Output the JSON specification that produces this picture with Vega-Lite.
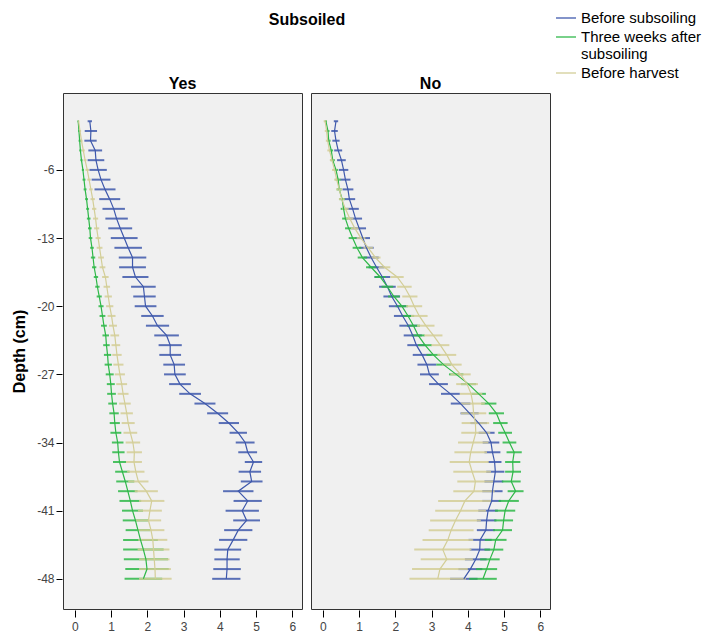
{
"$schema":"https://vega.github.io/schema/vega-lite/v6.json",
"background":"white",
"padding":{"left":11,"top":7,"right":5,"bottom":0},
"datasets":{"pts":[
{"s":"Yes","g":"Before subsoiling","d":-1,"m":0.41,"e":0.06},{"s":"Yes","g":"Before subsoiling","d":-2,"m":0.44,"e":0.17},{"s":"Yes","g":"Before subsoiling","d":-3,"m":0.43,"e":0.17},{"s":"Yes","g":"Before subsoiling","d":-4,"m":0.56,"e":0.19},{"s":"Yes","g":"Before subsoiling","d":-5,"m":0.58,"e":0.23},{"s":"Yes","g":"Before subsoiling","d":-6,"m":0.64,"e":0.24},{"s":"Yes","g":"Before subsoiling","d":-7,"m":0.72,"e":0.26},{"s":"Yes","g":"Before subsoiling","d":-8,"m":0.83,"e":0.29},{"s":"Yes","g":"Before subsoiling","d":-9,"m":0.96,"e":0.29},{"s":"Yes","g":"Before subsoiling","d":-10,"m":1.07,"e":0.31},{"s":"Yes","g":"Before subsoiling","d":-11,"m":1.15,"e":0.31},{"s":"Yes","g":"Before subsoiling","d":-12,"m":1.25,"e":0.33},{"s":"Yes","g":"Before subsoiling","d":-13,"m":1.36,"e":0.37},{"s":"Yes","g":"Before subsoiling","d":-14,"m":1.47,"e":0.38},{"s":"Yes","g":"Before subsoiling","d":-15,"m":1.59,"e":0.38},{"s":"Yes","g":"Before subsoiling","d":-16,"m":1.59,"e":0.37},{"s":"Yes","g":"Before subsoiling","d":-17,"m":1.67,"e":0.36},{"s":"Yes","g":"Before subsoiling","d":-18,"m":1.89,"e":0.34},{"s":"Yes","g":"Before subsoiling","d":-19,"m":1.92,"e":0.31},{"s":"Yes","g":"Before subsoiling","d":-20,"m":1.95,"e":0.30},{"s":"Yes","g":"Before subsoiling","d":-21,"m":2.14,"e":0.31},{"s":"Yes","g":"Before subsoiling","d":-22,"m":2.28,"e":0.32},{"s":"Yes","g":"Before subsoiling","d":-23,"m":2.53,"e":0.34},{"s":"Yes","g":"Before subsoiling","d":-24,"m":2.63,"e":0.32},{"s":"Yes","g":"Before subsoiling","d":-25,"m":2.63,"e":0.30},{"s":"Yes","g":"Before subsoiling","d":-26,"m":2.74,"e":0.30},{"s":"Yes","g":"Before subsoiling","d":-27,"m":2.76,"e":0.30},{"s":"Yes","g":"Before subsoiling","d":-28,"m":2.90,"e":0.30},{"s":"Yes","g":"Before subsoiling","d":-29,"m":3.18,"e":0.30},{"s":"Yes","g":"Before subsoiling","d":-30,"m":3.59,"e":0.29},{"s":"Yes","g":"Before subsoiling","d":-31,"m":3.94,"e":0.29},{"s":"Yes","g":"Before subsoiling","d":-32,"m":4.25,"e":0.28},{"s":"Yes","g":"Before subsoiling","d":-33,"m":4.51,"e":0.24},{"s":"Yes","g":"Before subsoiling","d":-34,"m":4.70,"e":0.26},{"s":"Yes","g":"Before subsoiling","d":-35,"m":4.77,"e":0.26},{"s":"Yes","g":"Before subsoiling","d":-36,"m":4.93,"e":0.24},{"s":"Yes","g":"Before subsoiling","d":-37,"m":4.83,"e":0.31},{"s":"Yes","g":"Before subsoiling","d":-38,"m":4.88,"e":0.30},{"s":"Yes","g":"Before subsoiling","d":-39,"m":4.51,"e":0.42},{"s":"Yes","g":"Before subsoiling","d":-40,"m":4.77,"e":0.39},{"s":"Yes","g":"Before subsoiling","d":-41,"m":4.62,"e":0.46},{"s":"Yes","g":"Before subsoiling","d":-42,"m":4.74,"e":0.37},{"s":"Yes","g":"Before subsoiling","d":-43,"m":4.51,"e":0.39},{"s":"Yes","g":"Before subsoiling","d":-44,"m":4.37,"e":0.39},{"s":"Yes","g":"Before subsoiling","d":-45,"m":4.22,"e":0.37},{"s":"Yes","g":"Before subsoiling","d":-46,"m":4.20,"e":0.35},{"s":"Yes","g":"Before subsoiling","d":-47,"m":4.20,"e":0.38},{"s":"Yes","g":"Before subsoiling","d":-48,"m":4.18,"e":0.39},
{"s":"Yes","g":"Three weeks after subsoiling","d":-1,"m":0.09,"e":0.02},{"s":"Yes","g":"Three weeks after subsoiling","d":-2,"m":0.11,"e":0.02},{"s":"Yes","g":"Three weeks after subsoiling","d":-3,"m":0.13,"e":0.03},{"s":"Yes","g":"Three weeks after subsoiling","d":-4,"m":0.15,"e":0.03},{"s":"Yes","g":"Three weeks after subsoiling","d":-5,"m":0.18,"e":0.03},{"s":"Yes","g":"Three weeks after subsoiling","d":-6,"m":0.22,"e":0.03},{"s":"Yes","g":"Three weeks after subsoiling","d":-7,"m":0.25,"e":0.04},{"s":"Yes","g":"Three weeks after subsoiling","d":-8,"m":0.28,"e":0.04},{"s":"Yes","g":"Three weeks after subsoiling","d":-9,"m":0.32,"e":0.04},{"s":"Yes","g":"Three weeks after subsoiling","d":-10,"m":0.35,"e":0.04},{"s":"Yes","g":"Three weeks after subsoiling","d":-11,"m":0.38,"e":0.05},{"s":"Yes","g":"Three weeks after subsoiling","d":-12,"m":0.41,"e":0.05},{"s":"Yes","g":"Three weeks after subsoiling","d":-13,"m":0.43,"e":0.05},{"s":"Yes","g":"Three weeks after subsoiling","d":-14,"m":0.47,"e":0.05},{"s":"Yes","g":"Three weeks after subsoiling","d":-15,"m":0.50,"e":0.06},{"s":"Yes","g":"Three weeks after subsoiling","d":-16,"m":0.53,"e":0.06},{"s":"Yes","g":"Three weeks after subsoiling","d":-17,"m":0.58,"e":0.06},{"s":"Yes","g":"Three weeks after subsoiling","d":-18,"m":0.62,"e":0.06},{"s":"Yes","g":"Three weeks after subsoiling","d":-19,"m":0.67,"e":0.07},{"s":"Yes","g":"Three weeks after subsoiling","d":-20,"m":0.72,"e":0.07},{"s":"Yes","g":"Three weeks after subsoiling","d":-21,"m":0.76,"e":0.08},{"s":"Yes","g":"Three weeks after subsoiling","d":-22,"m":0.80,"e":0.08},{"s":"Yes","g":"Three weeks after subsoiling","d":-23,"m":0.85,"e":0.09},{"s":"Yes","g":"Three weeks after subsoiling","d":-24,"m":0.87,"e":0.09},{"s":"Yes","g":"Three weeks after subsoiling","d":-25,"m":0.90,"e":0.10},{"s":"Yes","g":"Three weeks after subsoiling","d":-26,"m":0.92,"e":0.10},{"s":"Yes","g":"Three weeks after subsoiling","d":-27,"m":0.96,"e":0.11},{"s":"Yes","g":"Three weeks after subsoiling","d":-28,"m":0.99,"e":0.11},{"s":"Yes","g":"Three weeks after subsoiling","d":-29,"m":1.01,"e":0.12},{"s":"Yes","g":"Three weeks after subsoiling","d":-30,"m":1.04,"e":0.12},{"s":"Yes","g":"Three weeks after subsoiling","d":-31,"m":1.08,"e":0.13},{"s":"Yes","g":"Three weeks after subsoiling","d":-32,"m":1.10,"e":0.14},{"s":"Yes","g":"Three weeks after subsoiling","d":-33,"m":1.13,"e":0.15},{"s":"Yes","g":"Three weeks after subsoiling","d":-34,"m":1.18,"e":0.16},{"s":"Yes","g":"Three weeks after subsoiling","d":-35,"m":1.20,"e":0.17},{"s":"Yes","g":"Three weeks after subsoiling","d":-36,"m":1.23,"e":0.18},{"s":"Yes","g":"Three weeks after subsoiling","d":-37,"m":1.31,"e":0.20},{"s":"Yes","g":"Three weeks after subsoiling","d":-38,"m":1.39,"e":0.25},{"s":"Yes","g":"Three weeks after subsoiling","d":-39,"m":1.46,"e":0.27},{"s":"Yes","g":"Three weeks after subsoiling","d":-40,"m":1.53,"e":0.30},{"s":"Yes","g":"Three weeks after subsoiling","d":-41,"m":1.59,"e":0.29},{"s":"Yes","g":"Three weeks after subsoiling","d":-42,"m":1.67,"e":0.35},{"s":"Yes","g":"Three weeks after subsoiling","d":-43,"m":1.74,"e":0.34},{"s":"Yes","g":"Three weeks after subsoiling","d":-44,"m":1.81,"e":0.48},{"s":"Yes","g":"Three weeks after subsoiling","d":-45,"m":1.89,"e":0.56},{"s":"Yes","g":"Three weeks after subsoiling","d":-46,"m":1.96,"e":0.61},{"s":"Yes","g":"Three weeks after subsoiling","d":-47,"m":1.99,"e":0.60},{"s":"Yes","g":"Three weeks after subsoiling","d":-48,"m":1.89,"e":0.52},
{"s":"Yes","g":"Before harvest","d":-1,"m":0.10,"e":0.02},{"s":"Yes","g":"Before harvest","d":-2,"m":0.14,"e":0.03},{"s":"Yes","g":"Before harvest","d":-3,"m":0.18,"e":0.03},{"s":"Yes","g":"Before harvest","d":-4,"m":0.23,"e":0.04},{"s":"Yes","g":"Before harvest","d":-5,"m":0.28,"e":0.04},{"s":"Yes","g":"Before harvest","d":-6,"m":0.34,"e":0.05},{"s":"Yes","g":"Before harvest","d":-7,"m":0.39,"e":0.05},{"s":"Yes","g":"Before harvest","d":-8,"m":0.44,"e":0.05},{"s":"Yes","g":"Before harvest","d":-9,"m":0.49,"e":0.06},{"s":"Yes","g":"Before harvest","d":-10,"m":0.53,"e":0.06},{"s":"Yes","g":"Before harvest","d":-11,"m":0.57,"e":0.07},{"s":"Yes","g":"Before harvest","d":-12,"m":0.60,"e":0.07},{"s":"Yes","g":"Before harvest","d":-13,"m":0.64,"e":0.07},{"s":"Yes","g":"Before harvest","d":-14,"m":0.68,"e":0.08},{"s":"Yes","g":"Before harvest","d":-15,"m":0.72,"e":0.08},{"s":"Yes","g":"Before harvest","d":-16,"m":0.76,"e":0.08},{"s":"Yes","g":"Before harvest","d":-17,"m":0.84,"e":0.09},{"s":"Yes","g":"Before harvest","d":-18,"m":0.88,"e":0.09},{"s":"Yes","g":"Before harvest","d":-19,"m":0.92,"e":0.10},{"s":"Yes","g":"Before harvest","d":-20,"m":0.96,"e":0.10},{"s":"Yes","g":"Before harvest","d":-21,"m":1.01,"e":0.11},{"s":"Yes","g":"Before harvest","d":-22,"m":1.05,"e":0.11},{"s":"Yes","g":"Before harvest","d":-23,"m":1.10,"e":0.12},{"s":"Yes","g":"Before harvest","d":-24,"m":1.13,"e":0.12},{"s":"Yes","g":"Before harvest","d":-25,"m":1.16,"e":0.13},{"s":"Yes","g":"Before harvest","d":-26,"m":1.20,"e":0.14},{"s":"Yes","g":"Before harvest","d":-27,"m":1.24,"e":0.14},{"s":"Yes","g":"Before harvest","d":-28,"m":1.29,"e":0.15},{"s":"Yes","g":"Before harvest","d":-29,"m":1.33,"e":0.15},{"s":"Yes","g":"Before harvest","d":-30,"m":1.38,"e":0.16},{"s":"Yes","g":"Before harvest","d":-31,"m":1.43,"e":0.17},{"s":"Yes","g":"Before harvest","d":-32,"m":1.47,"e":0.18},{"s":"Yes","g":"Before harvest","d":-33,"m":1.53,"e":0.19},{"s":"Yes","g":"Before harvest","d":-34,"m":1.60,"e":0.20},{"s":"Yes","g":"Before harvest","d":-35,"m":1.64,"e":0.21},{"s":"Yes","g":"Before harvest","d":-36,"m":1.63,"e":0.22},{"s":"Yes","g":"Before harvest","d":-37,"m":1.68,"e":0.24},{"s":"Yes","g":"Before harvest","d":-38,"m":1.75,"e":0.28},{"s":"Yes","g":"Before harvest","d":-39,"m":1.97,"e":0.32},{"s":"Yes","g":"Before harvest","d":-40,"m":2.12,"e":0.35},{"s":"Yes","g":"Before harvest","d":-41,"m":2.07,"e":0.33},{"s":"Yes","g":"Before harvest","d":-42,"m":2.03,"e":0.35},{"s":"Yes","g":"Before harvest","d":-43,"m":2.10,"e":0.37},{"s":"Yes","g":"Before harvest","d":-44,"m":2.15,"e":0.40},{"s":"Yes","g":"Before harvest","d":-45,"m":2.17,"e":0.44},{"s":"Yes","g":"Before harvest","d":-46,"m":2.19,"e":0.42},{"s":"Yes","g":"Before harvest","d":-47,"m":2.21,"e":0.44},{"s":"Yes","g":"Before harvest","d":-48,"m":2.22,"e":0.45},
{"s":"No","g":"Before subsoiling","d":-1,"m":0.36,"e":0.06},{"s":"No","g":"Before subsoiling","d":-2,"m":0.32,"e":0.09},{"s":"No","g":"Before subsoiling","d":-3,"m":0.36,"e":0.10},{"s":"No","g":"Before subsoiling","d":-4,"m":0.42,"e":0.11},{"s":"No","g":"Before subsoiling","d":-5,"m":0.51,"e":0.12},{"s":"No","g":"Before subsoiling","d":-6,"m":0.57,"e":0.13},{"s":"No","g":"Before subsoiling","d":-7,"m":0.62,"e":0.14},{"s":"No","g":"Before subsoiling","d":-8,"m":0.69,"e":0.15},{"s":"No","g":"Before subsoiling","d":-9,"m":0.73,"e":0.16},{"s":"No","g":"Before subsoiling","d":-10,"m":0.82,"e":0.17},{"s":"No","g":"Before subsoiling","d":-11,"m":0.90,"e":0.18},{"s":"No","g":"Before subsoiling","d":-12,"m":1.00,"e":0.19},{"s":"No","g":"Before subsoiling","d":-13,"m":1.10,"e":0.20},{"s":"No","g":"Before subsoiling","d":-14,"m":1.20,"e":0.20},{"s":"No","g":"Before subsoiling","d":-15,"m":1.33,"e":0.21},{"s":"No","g":"Before subsoiling","d":-16,"m":1.48,"e":0.22},{"s":"No","g":"Before subsoiling","d":-17,"m":1.64,"e":0.22},{"s":"No","g":"Before subsoiling","d":-18,"m":1.78,"e":0.23},{"s":"No","g":"Before subsoiling","d":-19,"m":1.90,"e":0.23},{"s":"No","g":"Before subsoiling","d":-20,"m":2.06,"e":0.24},{"s":"No","g":"Before subsoiling","d":-21,"m":2.20,"e":0.24},{"s":"No","g":"Before subsoiling","d":-22,"m":2.36,"e":0.25},{"s":"No","g":"Before subsoiling","d":-23,"m":2.48,"e":0.25},{"s":"No","g":"Before subsoiling","d":-24,"m":2.58,"e":0.25},{"s":"No","g":"Before subsoiling","d":-25,"m":2.74,"e":0.26},{"s":"No","g":"Before subsoiling","d":-26,"m":2.87,"e":0.26},{"s":"No","g":"Before subsoiling","d":-27,"m":2.94,"e":0.26},{"s":"No","g":"Before subsoiling","d":-28,"m":3.19,"e":0.26},{"s":"No","g":"Before subsoiling","d":-29,"m":3.52,"e":0.26},{"s":"No","g":"Before subsoiling","d":-30,"m":3.80,"e":0.27},{"s":"No","g":"Before subsoiling","d":-31,"m":4.05,"e":0.25},{"s":"No","g":"Before subsoiling","d":-32,"m":4.30,"e":0.23},{"s":"No","g":"Before subsoiling","d":-33,"m":4.52,"e":0.22},{"s":"No","g":"Before subsoiling","d":-34,"m":4.64,"e":0.23},{"s":"No","g":"Before subsoiling","d":-35,"m":4.68,"e":0.22},{"s":"No","g":"Before subsoiling","d":-36,"m":4.74,"e":0.19},{"s":"No","g":"Before subsoiling","d":-37,"m":4.76,"e":0.25},{"s":"No","g":"Before subsoiling","d":-38,"m":4.72,"e":0.26},{"s":"No","g":"Before subsoiling","d":-39,"m":4.68,"e":0.28},{"s":"No","g":"Before subsoiling","d":-40,"m":4.66,"e":0.26},{"s":"No","g":"Before subsoiling","d":-41,"m":4.56,"e":0.27},{"s":"No","g":"Before subsoiling","d":-42,"m":4.52,"e":0.27},{"s":"No","g":"Before subsoiling","d":-43,"m":4.50,"e":0.25},{"s":"No","g":"Before subsoiling","d":-44,"m":4.34,"e":0.32},{"s":"No","g":"Before subsoiling","d":-45,"m":4.33,"e":0.28},{"s":"No","g":"Before subsoiling","d":-46,"m":4.22,"e":0.30},{"s":"No","g":"Before subsoiling","d":-47,"m":4.07,"e":0.33},{"s":"No","g":"Before subsoiling","d":-48,"m":3.89,"e":0.38},
{"s":"No","g":"Three weeks after subsoiling","d":-1,"m":0.08,"e":0.03},{"s":"No","g":"Three weeks after subsoiling","d":-2,"m":0.14,"e":0.04},{"s":"No","g":"Three weeks after subsoiling","d":-3,"m":0.16,"e":0.05},{"s":"No","g":"Three weeks after subsoiling","d":-4,"m":0.23,"e":0.05},{"s":"No","g":"Three weeks after subsoiling","d":-5,"m":0.27,"e":0.06},{"s":"No","g":"Three weeks after subsoiling","d":-6,"m":0.36,"e":0.06},{"s":"No","g":"Three weeks after subsoiling","d":-7,"m":0.42,"e":0.07},{"s":"No","g":"Three weeks after subsoiling","d":-8,"m":0.45,"e":0.07},{"s":"No","g":"Three weeks after subsoiling","d":-9,"m":0.53,"e":0.08},{"s":"No","g":"Three weeks after subsoiling","d":-10,"m":0.57,"e":0.08},{"s":"No","g":"Three weeks after subsoiling","d":-11,"m":0.62,"e":0.09},{"s":"No","g":"Three weeks after subsoiling","d":-12,"m":0.71,"e":0.10},{"s":"No","g":"Three weeks after subsoiling","d":-13,"m":0.82,"e":0.11},{"s":"No","g":"Three weeks after subsoiling","d":-14,"m":0.94,"e":0.12},{"s":"No","g":"Three weeks after subsoiling","d":-15,"m":1.09,"e":0.13},{"s":"No","g":"Three weeks after subsoiling","d":-16,"m":1.33,"e":0.14},{"s":"No","g":"Three weeks after subsoiling","d":-17,"m":1.58,"e":0.15},{"s":"No","g":"Three weeks after subsoiling","d":-18,"m":1.78,"e":0.16},{"s":"No","g":"Three weeks after subsoiling","d":-19,"m":1.96,"e":0.16},{"s":"No","g":"Three weeks after subsoiling","d":-20,"m":2.18,"e":0.17},{"s":"No","g":"Three weeks after subsoiling","d":-21,"m":2.35,"e":0.17},{"s":"No","g":"Three weeks after subsoiling","d":-22,"m":2.50,"e":0.18},{"s":"No","g":"Three weeks after subsoiling","d":-23,"m":2.63,"e":0.18},{"s":"No","g":"Three weeks after subsoiling","d":-24,"m":2.82,"e":0.19},{"s":"No","g":"Three weeks after subsoiling","d":-25,"m":3.05,"e":0.19},{"s":"No","g":"Three weeks after subsoiling","d":-26,"m":3.33,"e":0.20},{"s":"No","g":"Three weeks after subsoiling","d":-27,"m":3.68,"e":0.20},{"s":"No","g":"Three weeks after subsoiling","d":-28,"m":4.02,"e":0.21},{"s":"No","g":"Three weeks after subsoiling","d":-29,"m":4.30,"e":0.20},{"s":"No","g":"Three weeks after subsoiling","d":-30,"m":4.58,"e":0.21},{"s":"No","g":"Three weeks after subsoiling","d":-31,"m":4.79,"e":0.21},{"s":"No","g":"Three weeks after subsoiling","d":-32,"m":4.90,"e":0.20},{"s":"No","g":"Three weeks after subsoiling","d":-33,"m":5.03,"e":0.19},{"s":"No","g":"Three weeks after subsoiling","d":-34,"m":5.15,"e":0.19},{"s":"No","g":"Three weeks after subsoiling","d":-35,"m":5.28,"e":0.21},{"s":"No","g":"Three weeks after subsoiling","d":-36,"m":5.24,"e":0.21},{"s":"No","g":"Three weeks after subsoiling","d":-37,"m":5.25,"e":0.22},{"s":"No","g":"Three weeks after subsoiling","d":-38,"m":5.20,"e":0.26},{"s":"No","g":"Three weeks after subsoiling","d":-39,"m":5.32,"e":0.22},{"s":"No","g":"Three weeks after subsoiling","d":-40,"m":5.13,"e":0.28},{"s":"No","g":"Three weeks after subsoiling","d":-41,"m":5.03,"e":0.28},{"s":"No","g":"Three weeks after subsoiling","d":-42,"m":4.99,"e":0.26},{"s":"No","g":"Three weeks after subsoiling","d":-43,"m":4.96,"e":0.26},{"s":"No","g":"Three weeks after subsoiling","d":-44,"m":4.77,"e":0.30},{"s":"No","g":"Three weeks after subsoiling","d":-45,"m":4.72,"e":0.26},{"s":"No","g":"Three weeks after subsoiling","d":-46,"m":4.61,"e":0.27},{"s":"No","g":"Three weeks after subsoiling","d":-47,"m":4.52,"e":0.29},{"s":"No","g":"Three weeks after subsoiling","d":-48,"m":4.42,"e":0.38},
{"s":"No","g":"Before harvest","d":-1,"m":0.06,"e":0.04},{"s":"No","g":"Before harvest","d":-2,"m":0.10,"e":0.05},{"s":"No","g":"Before harvest","d":-3,"m":0.13,"e":0.05},{"s":"No","g":"Before harvest","d":-4,"m":0.18,"e":0.06},{"s":"No","g":"Before harvest","d":-5,"m":0.25,"e":0.06},{"s":"No","g":"Before harvest","d":-6,"m":0.32,"e":0.07},{"s":"No","g":"Before harvest","d":-7,"m":0.38,"e":0.07},{"s":"No","g":"Before harvest","d":-8,"m":0.45,"e":0.08},{"s":"No","g":"Before harvest","d":-9,"m":0.52,"e":0.08},{"s":"No","g":"Before harvest","d":-10,"m":0.62,"e":0.09},{"s":"No","g":"Before harvest","d":-11,"m":0.74,"e":0.10},{"s":"No","g":"Before harvest","d":-12,"m":0.88,"e":0.11},{"s":"No","g":"Before harvest","d":-13,"m":1.05,"e":0.12},{"s":"No","g":"Before harvest","d":-14,"m":1.25,"e":0.13},{"s":"No","g":"Before harvest","d":-15,"m":1.45,"e":0.14},{"s":"No","g":"Before harvest","d":-16,"m":1.70,"e":0.16},{"s":"No","g":"Before harvest","d":-17,"m":2.05,"e":0.18},{"s":"No","g":"Before harvest","d":-18,"m":2.25,"e":0.20},{"s":"No","g":"Before harvest","d":-19,"m":2.40,"e":0.21},{"s":"No","g":"Before harvest","d":-20,"m":2.52,"e":0.22},{"s":"No","g":"Before harvest","d":-21,"m":2.66,"e":0.23},{"s":"No","g":"Before harvest","d":-22,"m":2.84,"e":0.24},{"s":"No","g":"Before harvest","d":-23,"m":3.05,"e":0.25},{"s":"No","g":"Before harvest","d":-24,"m":3.24,"e":0.25},{"s":"No","g":"Before harvest","d":-25,"m":3.42,"e":0.26},{"s":"No","g":"Before harvest","d":-26,"m":3.56,"e":0.27},{"s":"No","g":"Before harvest","d":-27,"m":3.80,"e":0.28},{"s":"No","g":"Before harvest","d":-28,"m":3.98,"e":0.30},{"s":"No","g":"Before harvest","d":-29,"m":4.09,"e":0.31},{"s":"No","g":"Before harvest","d":-30,"m":4.14,"e":0.33},{"s":"No","g":"Before harvest","d":-31,"m":4.16,"e":0.35},{"s":"No","g":"Before harvest","d":-32,"m":4.21,"e":0.38},{"s":"No","g":"Before harvest","d":-33,"m":4.22,"e":0.40},{"s":"No","g":"Before harvest","d":-34,"m":4.15,"e":0.42},{"s":"No","g":"Before harvest","d":-35,"m":4.08,"e":0.45},{"s":"No","g":"Before harvest","d":-36,"m":4.04,"e":0.54},{"s":"No","g":"Before harvest","d":-37,"m":4.12,"e":0.52},{"s":"No","g":"Before harvest","d":-38,"m":4.21,"e":0.50},{"s":"No","g":"Before harvest","d":-39,"m":4.17,"e":0.57},{"s":"No","g":"Before harvest","d":-40,"m":3.92,"e":0.74},{"s":"No","g":"Before harvest","d":-41,"m":3.80,"e":0.70},{"s":"No","g":"Before harvest","d":-42,"m":3.66,"e":0.70},{"s":"No","g":"Before harvest","d":-43,"m":3.54,"e":0.62},{"s":"No","g":"Before harvest","d":-44,"m":3.45,"e":0.70},{"s":"No","g":"Before harvest","d":-45,"m":3.31,"e":0.79},{"s":"No","g":"Before harvest","d":-46,"m":3.42,"e":0.72},{"s":"No","g":"Before harvest","d":-47,"m":3.23,"e":0.77},{"s":"No","g":"Before harvest","d":-48,"m":3.17,"e":0.78}
]},
"data":{"name":"pts"},
"facet":{"column":{"field":"s","type":"nominal","sort":["Yes","No"],
  "header":{"title":"Subsoiled","titleFont":"Liberation Sans","titleFontSize":16,"titleFontWeight":"bold","titleColor":"#000","titlePadding":38,
    "labelFont":"Liberation Sans","labelFontSize":16,"labelFontWeight":"bold","labelColor":"#000","labelPadding":0}}},
"spacing":7,
"spec":{
  "width":239,"height":516,
  "encoding":{
    "x":{"field":"m","type":"quantitative","scale":{"domain":[-0.33,6.27],"nice":false,"zero":false},
      "axis":{"title":null,"values":[0,1,2,3,4,5,6],"grid":false,"domain":false,"tickSize":7,"tickColor":"#000","labelPadding":4,"labelFontSize":12,"labelColor":"#444","labelFont":"Liberation Sans","labelExpr":"'' + datum.value"}},
    "y":{"field":"d","type":"quantitative","scale":{"domain":[-51.1,1.9],"nice":false,"zero":false},
      "axis":{"title":"Depth (cm)","values":[-6,-13,-20,-27,-34,-41,-48],"grid":false,"domain":false,"tickSize":6,"tickColor":"#000","labelPadding":2,"labelFontSize":12,"labelColor":"#444","labelFont":"Liberation Sans","labelExpr":"'' + datum.value","titleFont":"Liberation Sans","titleFontSize":16,"titleFontWeight":"bold","titleColor":"#000","titlePadding":9}},
    "color":{"field":"g","type":"nominal","sort":["Before subsoiling","Three weeks after subsoiling","Before harvest"],
      "scale":{"domain":["Before subsoiling","Three weeks after subsoiling","Before harvest"],"range":["#3E58AC","#2EB848","#D3CE97"]},
      "legend":{"title":null,"orient":"none","legendX":492,"legendY":-86,"symbolType":"stroke","symbolSize":400,"symbolStrokeWidth":1.5,"labelFont":"Liberation Sans","labelFontSize":15,"labelColor":"#000","rowPadding":0,
        "labelExpr":"datum.label == 'Three weeks after subsoiling' ? ['Three weeks after','subsoiling'] : datum.label"}}
  },
  "layer":[
    {"mark":{"type":"errorbar","thickness":2,"ticks":false,"opacity":0.85},
     "encoding":{"xError":{"field":"e"}}},
    {"mark":{"type":"line","strokeWidth":1.2},
     "encoding":{"order":{"field":"d","sort":"descending"}}}
  ]
},
"config":{
  "view":{"fill":"#f0f0f0","stroke":"#333","strokeWidth":1},
  "font":"Liberation Sans"
}
}
